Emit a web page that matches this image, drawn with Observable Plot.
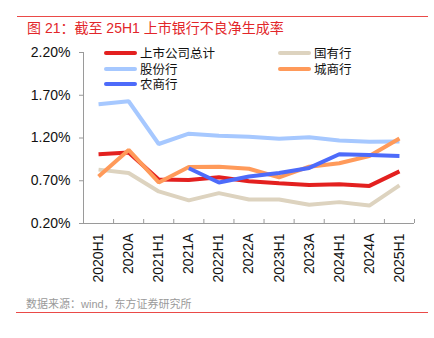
<!DOCTYPE html>
<html>
<head>
<meta charset="utf-8">
<script src="https://cdn.jsdelivr.net/npm/d3@7"></script>
<script src="https://cdn.jsdelivr.net/npm/@observablehq/plot@0.6"></script>
<style>
  html, body { margin: 0; padding: 0; background: #fff; }
  #wrap { position: relative; width: 434px; height: 338px; overflow: hidden; font-family: "Liberation Sans", Arial, "Noto Sans CJK SC", sans-serif; }
  #topline { position: absolute; left: 17px; top: 16px; width: 411px; height: 1px; background: #ea4a48; }
  #botline { position: absolute; left: 16px; top: 312px; width: 412px; height: 1px; background: #ea4a48; }
  #title { position: absolute; left: 27px; top: 19px; font-size: 14px; color: #e2262a; white-space: nowrap; font-family: "Liberation Sans", Arial, "Noto Sans CJK SC", sans-serif; line-height: 18px; }
  #source { position: absolute; left: 26px; top: 296px; font-size: 11px; color: #9a9a9a; white-space: nowrap; line-height: 16px; }
  .leg { position: absolute; display: flex; align-items: center; font-size: 12.5px; line-height: 14px; height: 14px; color: #111; white-space: nowrap; font-family: "Noto Sans CJK SC", sans-serif; }
  .leg span.sw { display: inline-block; width: 33px; height: 4px; border-radius: 2px; margin-right: 3px; }
  #chart { position: absolute; left: 0; top: 0; }
</style>
</head>
<body>
<div id="wrap">
  <div id="chart"></div>
  <div id="topline"></div>
  <div id="title">图 21：截至 25H1 上市银行不良净生成率</div>
  <div id="legend"></div>
  <div id="source">数据来源：wind，东方证券研究所</div>
  <div id="botline"></div>
</div>
<script>
const categories = ["2020H1","2020A","2021H1","2021A","2022H1","2022A","2023H1","2023A","2024H1","2024A","2025H1"];
const yTicks = [0.2, 0.7, 1.2, 1.7, 2.2];

const seriesNames = ["上市公司总计", "国有行", "股份行", "城商行", "农商行"];
const seriesColors = ["#e3201f", "#ddd3bf", "#a6c8ff", "#ff9a5a", "#4d6bfa"];

const total   = [1.01, 1.03, 0.715, 0.71, 0.74, 0.695, 0.67, 0.65, 0.66, 0.64, 0.81];
const state   = [0.83, 0.79, 0.575, 0.47, 0.555, 0.48, 0.48, 0.42, 0.45, 0.41, 0.645];
const joint   = [1.595, 1.63, 1.13, 1.25, 1.225, 1.215, 1.19, 1.21, 1.17, 1.157, 1.16];
const city    = [0.75, 1.06, 0.68, 0.86, 0.865, 0.84, 0.74, 0.865, 0.905, 0.99, 1.195];
const rural   = [null, null, null, 0.846, 0.68, 0.75, 0.79, 0.85, 1.01, 1.0, 0.99];

const seriesValues = [total, state, joint, city, rural];
// drawing order (bottom to top)
const drawOrder = [1, 2, 0, 3, 4];

const rows = [];
for (const s of drawOrder) {
  seriesValues[s].forEach((v, i) => {
    if (v != null) rows.push({series: seriesNames[s], idx: i, value: v});
  });
}

const boundaries = d3.range(categories.length + 1).map(i => i - 0.5);
const axisColor = "#9a9a9a";

const chart = Plot.plot({
  width: 434,
  height: 338,
  marginLeft: 83,
  marginRight: 20,
  marginTop: 52,
  marginBottom: 115,
  style: {fontFamily: "Liberation Sans, Arial, sans-serif", fontSize: "14px", color: "#111", background: "transparent"},
  x: {type: "linear", domain: [-0.5, categories.length - 0.5]},
  y: {domain: [0.2, 2.2]},
  color: {domain: seriesNames, range: seriesColors},
  marks: [
    Plot.ruleX([-0.5], {stroke: axisColor, strokeWidth: 1}),
    Plot.ruleY([0.2], {stroke: axisColor, strokeWidth: 1}),
    Plot.axisY(yTicks, {tickSize: 4, tickPadding: 9, stroke: axisColor, fill: "#111", tickFormat: d => d.toFixed(2) + "%", label: null, fontSize: 14}),
    Plot.axisX(boundaries, {tickSize: -4, stroke: axisColor, fill: "none", label: null}),
    Plot.axisX(d3.range(categories.length), {tickSize: 0, tickPadding: 10, tickRotate: -90, fill: "#111", tickFormat: i => categories[i], label: null, fontSize: 14}),
    Plot.line(rows, {x: "idx", y: "value", z: "series", stroke: "series", strokeWidth: 4, strokeLinejoin: "miter", strokeLinecap: "butt", curve: "linear"})
  ]
});
document.getElementById("chart").appendChild(chart);

// legend
const legendPos = [
  {left: 104, top: 53},
  {left: 278, top: 53},
  {left: 104, top: 69},
  {left: 278, top: 69},
  {left: 104, top: 84}
];
const legend = document.getElementById("legend");
seriesNames.forEach((name, i) => {
  const d = document.createElement("div");
  d.className = "leg";
  d.style.left = legendPos[i].left + "px";
  d.style.top = (legendPos[i].top - 7) + "px";
  const sw = document.createElement("span");
  sw.className = "sw";
  sw.style.background = seriesColors[i];
  d.appendChild(sw);
  d.appendChild(document.createTextNode(name));
  legend.appendChild(d);
});
</script>
</body>
</html>
